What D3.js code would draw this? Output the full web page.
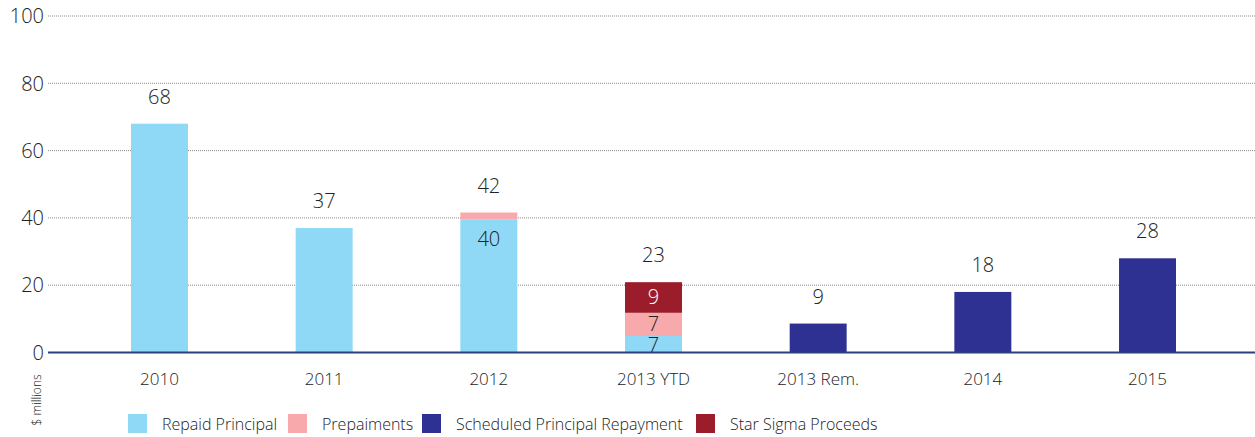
<!DOCTYPE html>
<html><head><meta charset="utf-8">
<script src="https://cdn.jsdelivr.net/npm/d3@7"></script>
<style>
html,body{margin:0;padding:0;background:#fff;}
text{font-family:"Open Sans",sans-serif;font-weight:300;fill:#222;}
</style></head>
<body><svg id="c" width="1255" height="437"></svg>
<script>
const categories = ["2010","2011","2012","2013 YTD","2013 Rem.","2014","2015"];
const repaidPrincipal = [68, 37, 39.6, 4.9, 0, 0, 0];
const prepayments = [0, 0, 2.0, 6.9, 0, 0, 0];
const scheduledRepayment = [0, 0, 0, 0, 8.6, 18, 28];
const starSigma = [0, 0, 0, 9.1, 0, 0, 0];
const totalLabels = ["68","37","42","23","9","18","28"];
const repaidLabels = ["","","40","7","","",""];
const prepayLabels = ["","","","7","","",""];
const starLabels = ["","","","9","","",""];
const yTicks = [0,20,40,60,80,100];

const seriesNames = ["Repaid Principal","Prepaiments","Scheduled Principal Repayment","Star Sigma Proceeds"];
const colors = ["#8fd8f6","#f7a9ab","#2e3192","#9b1c2a"];
const seriesVals = [repaidPrincipal, prepayments, scheduledRepayment, starSigma];
const segLabels = [repaidLabels, prepayLabels, null, starLabels];
const labelColors = ["#222","#222","#fff","#fff"];

const svg = d3.select("#c");
const y = d3.scaleLinear().domain([0,100]).range([352.5, 16]);
const x = d3.scaleBand().domain(categories).range([48, 1259]).paddingInner(0.654).paddingOuter(0.504);

// gridlines
svg.append("g").selectAll("line").data(yTicks.filter(d=>d>0)).join("line")
  .attr("x1",48).attr("x2",1255).attr("y1",d=>y(d)).attr("y2",d=>y(d))
  .attr("stroke","#8a8a8a").attr("stroke-width",1).attr("stroke-dasharray","1,1");

// y tick labels
svg.append("g").selectAll("text").data(yTicks).join("text")
  .attr("x",44).attr("y",d=>y(d)).attr("dy","0.36em").attr("text-anchor","end")
  .style("font-size","20px").text(d=>d);

// stacked data
const stackData = categories.map((c,i)=>{
  const o = {cat:c}; seriesVals.forEach((s,k)=>o["s"+k]=s[i]); return o;
});
const stack = d3.stack().keys(seriesVals.map((s,k)=>"s"+k))(stackData);

svg.append("g").selectAll("g").data(stack).join("g")
  .attr("fill",(d,k)=>colors[k])
  .selectAll("rect").data(d=>d).join("rect")
  .attr("x",d=>x(d.data.cat)).attr("width",x.bandwidth())
  .attr("y",d=>y(d[1])).attr("height",d=>Math.max(0,y(d[0])-y(d[1])));

// segment labels
stack.forEach((layer,k)=>{
  const labs = segLabels[k]; if(!labs) return;
  layer.forEach((d,i)=>{
    if(!labs[i]) return;
    const top = y(d[1]), bot = y(d[0]);
    const h = bot-top;
    const cy = h > 60 ? top + 20 : (top+bot)/2 + (k===0 ? 1 : -1);
    svg.append("text").attr("x",x(d.data.cat)+x.bandwidth()/2).attr("y",cy)
      .attr("dy","0.36em").attr("text-anchor","middle")
      .style("font-size","20px").style("fill",labelColors[k]).text(labs[i]);
  });
});

// total labels
const totals = categories.map((c,i)=>d3.sum(seriesVals,s=>s[i]));
svg.append("g").selectAll("text").data(categories).join("text")
  .attr("x",d=>x(d)+x.bandwidth()/2).attr("y",(d,i)=>y(totals[i])-20)
  .attr("text-anchor","middle").style("font-size","20px").text((d,i)=>totalLabels[i]);

// axis line
svg.append("line").attr("x1",48).attr("x2",1255).attr("y1",y(0)).attr("y2",y(0))
  .attr("stroke","#2f3f7c").attr("stroke-width",2);

// x labels
svg.append("g").selectAll("text").data(categories).join("text")
  .attr("x",d=>x(d)+x.bandwidth()/2).attr("y",385).attr("text-anchor","middle")
  .style("font-size","17px").text(d=>d);

// units
svg.append("text").attr("transform","translate(41,400) rotate(-90)").attr("text-anchor","middle")
  .style("font-size","12px").text("$ millions");

// legend
const legX = [128, 288, 422, 696];
const lg = svg.append("g").selectAll("g").data(seriesNames).join("g")
  .attr("transform",(d,i)=>`translate(${legX[i]},414)`);
lg.append("rect").attr("width",19).attr("height",19).attr("fill",(d,i)=>colors[i]);
lg.append("text").attr("x",34).attr("y",16).style("font-size","16px").text(d=>d);
</script></body></html>
